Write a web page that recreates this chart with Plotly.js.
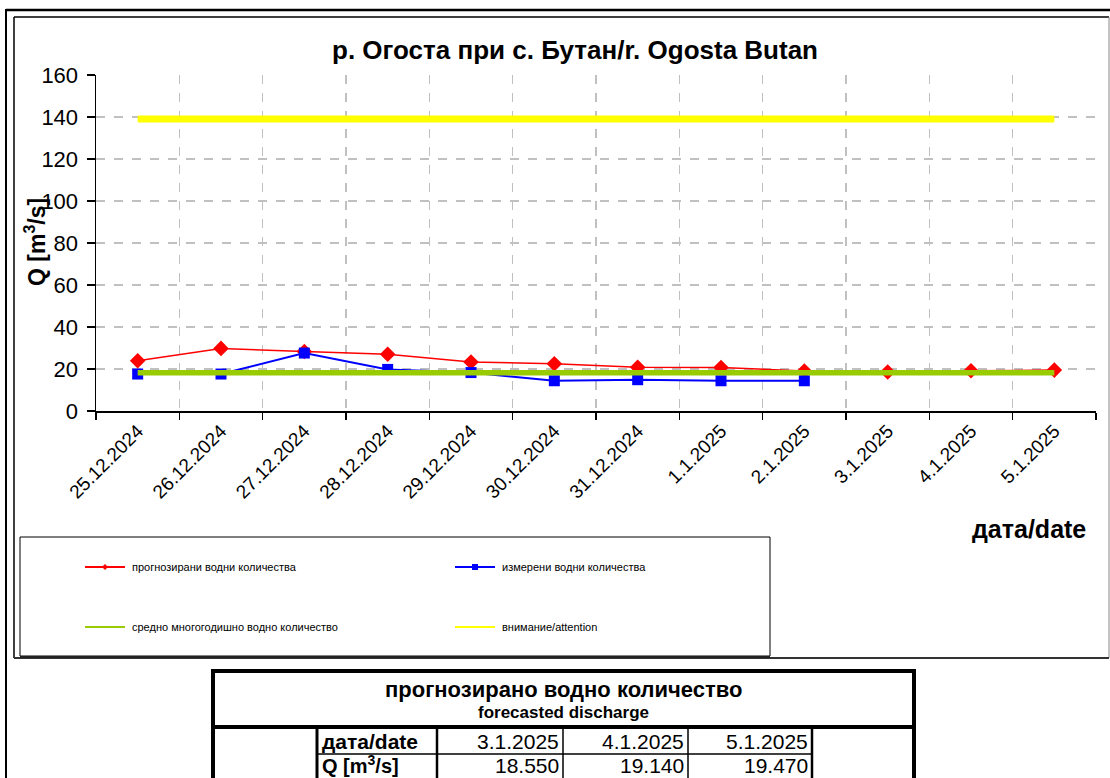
<!DOCTYPE html>
<html>
<head>
<meta charset="utf-8">
<script src="https://cdn.plot.ly/plotly-3.0.1.min.js"></script>
<style>
  html, body { margin: 0; padding: 0; background: #fff; }
  #chart { width: 1110px; height: 778px; }
</style>
</head>
<body>
<div id="chart"></div>
<script>
// ---------- data ----------
const categories = ['25.12.2024','26.12.2024','27.12.2024','28.12.2024','29.12.2024','30.12.2024','31.12.2024','1.1.2025','2.1.2025','3.1.2025','4.1.2025','5.1.2025'];
const forecast = [23.9, 29.8, 28.3, 27.0, 23.3, 22.5, 20.8, 20.7, 19.0, 18.55, 19.14, 19.47];
const measured = [17.6, 17.6, 27.6, 19.8, 18.3, 14.4, 14.9, 14.4, 14.4, null, null, null];
const meanDischarge = [18.2, 18.2, 18.2, 18.2, 18.2, 18.2, 18.2, 18.2, 18.2, 18.2, 18.2, 18.2];
const attention = [139, 139, 139, 139, 139, 139, 139, 139, 139, 139, 139, 139];
const yTicks = [0, 20, 40, 60, 80, 100, 120, 140, 160];

const seriesNames = ['прогнозирани водни количества', 'измерени водни количества', 'средно многогодишно водно количество', 'внимание/attention'];
const chartTitle = 'р. Огоста при с. Бутан/r. Ogosta Butan';
const xTitle = 'дата/date';
const yTitle = 'Q [m<sup>3</sup>/s]';
const tableTitleBg = 'прогнозирано водно количество';
const tableTitleEn = 'forecasted discharge';
const tableRowLabels = ['дата/date', 'Q [m<sup>3</sup>/s]'];
const tableDates = categories.slice(9);
const tableValues = forecast.slice(9);

// ---------- geometry helpers (pixel -> paper) ----------
const W = 1110, H = 778;
const L = 96, R = 1096, T = 75, B = 411;
const px = x => (x - L) / (R - L);
const py = y => (B - y) / (B - T);
const FONT = 'Liberation Sans, Arial, sans-serif';

const shapes = [];
const annotations = [];
function line(x0, y0, x1, y1, color, width) {
  shapes.push({type: 'line', xref: 'paper', yref: 'paper', x0: px(x0), y0: py(y0), x1: px(x1), y1: py(y1),
    line: {color: color, width: width}});
}
function rect(x0, y0, x1, y1, color, width) {
  shapes.push({type: 'rect', xref: 'paper', yref: 'paper', x0: px(x0), y0: py(y0), x1: px(x1), y1: py(y1),
    line: {color: color, width: width}, fillcolor: 'rgba(0,0,0,0)'});
}
function text(t, x, y, xanchor, size, bold, color) {
  annotations.push({xref: 'paper', yref: 'paper', x: px(x), y: py(y), xanchor: xanchor, yanchor: 'middle',
    text: bold ? '<b>' + t + '</b>' : t, showarrow: false,
    font: {family: FONT, size: size, color: color || '#000'}});
}

// outer frames
line(6, 10, 1112, 10, '#000', 2.5);
line(6, 9, 6, 790, '#000', 2);
line(14, 17, 1109, 17, '#000', 1.5);
line(14, 17, 14, 658, '#000', 1.5);
line(1109, 17, 1109, 658, '#888', 1);
line(14, 658, 1109, 658, '#333', 2);

// legend box
rect(20, 537, 770, 656, '#000', 1);
line(20, 657, 770, 657, '#222', 2);
// legend entries
const legItems = [
  {x: 85, y: 567, color: '#ff0000', marker: 'diamond', name: seriesNames[0]},
  {x: 455, y: 567, color: '#0000ff', marker: 'square', name: seriesNames[1]},
  {x: 85, y: 627, color: '#99cc00', marker: null, name: seriesNames[2]},
  {x: 455, y: 627, color: '#ffff00', marker: null, name: seriesNames[3]}
];
legItems.forEach(it => {
  line(it.x, it.y, it.x + 40, it.y, it.color, 2);
  const cx = it.x + 20;
  if (it.marker === 'diamond') {
    shapes.push({type: 'path', xref: 'paper', yref: 'paper',
      path: `M ${px(cx)} ${py(it.y - 3)} L ${px(cx + 3)} ${py(it.y)} L ${px(cx)} ${py(it.y + 3)} L ${px(cx - 3)} ${py(it.y)} Z`,
      fillcolor: it.color, line: {color: it.color, width: 0}});
  } else if (it.marker === 'square') {
    shapes.push({type: 'rect', xref: 'paper', yref: 'paper', x0: px(cx - 3), x1: px(cx + 3), y0: py(it.y - 3), y1: py(it.y + 3),
      fillcolor: it.color, line: {color: it.color, width: 0}});
  }
  text(it.name, it.x + 45, it.y, 'left', 11, false, '#000');
});

// axis titles
annotations.push({xref: 'paper', yref: 'paper', x: px(35), y: py(242), xanchor: 'center', yanchor: 'middle',
  text: '<b>' + yTitle + '</b>', textangle: -90, showarrow: false, font: {family: FONT, size: 23, color: '#000'}});
text(xTitle, 1029, 529, 'center', 25, true);

// table
const tL = 213, tR = 914, tT = 671, tSep = 727, tRow = 754, tBot = 792;
const colX = [317, 437, 563, 688, 812];
rect(tL, tT, tR, tBot, '#000', 4);
line(tL, tSep, tR, tSep, '#000', 4);
line(colX[0], tSep, colX[0], tBot, '#000', 3);
line(colX[1], tSep, colX[1], tBot, '#000', 2.5);
line(colX[2], tSep, colX[2], tBot, '#000', 1.5);
line(colX[3], tSep, colX[3], tBot, '#000', 1.5);
line(colX[4], tSep, colX[4], tBot, '#000', 2.5);
line(colX[0], tRow, colX[4], tRow, '#000', 1.5);
text(tableTitleBg, (tL + tR) / 2, 689, 'center', 22, true);
text(tableTitleEn, (tL + tR) / 2, 712, 'center', 17, true);
text(tableRowLabels[0], colX[0] + 3, 741, 'left', 21, true);
text(tableRowLabels[1], colX[0] + 3, 764, 'left', 20, true);
for (let i = 0; i < 3; i++) {
  text(tableDates[i], colX[i + 2] - 2, 741, 'right', 21, false);
  text(tableValues[i].toFixed(3), colX[i + 2] - 2, 765, 'right', 21, false);
}

// ---------- traces ----------
const traces = [
  {x: categories, y: attention, type: 'scatter', mode: 'lines', name: seriesNames[3],
    line: {color: '#ffff00', width: 7}},
  {x: categories, y: forecast, type: 'scatter', mode: 'lines+markers', name: seriesNames[0],
    line: {color: '#ff0000', width: 1.5}, marker: {symbol: 'diamond', size: 12, color: '#ff0000'}},
  {x: categories, y: measured, type: 'scatter', mode: 'lines+markers', name: seriesNames[1],
    line: {color: '#0000ff', width: 2}, marker: {symbol: 'square', size: 11, color: '#0000ff'}},
  {x: categories, y: meanDischarge, type: 'scatter', mode: 'lines', name: seriesNames[2],
    line: {color: '#99cc00', width: 5.5}}
];

const layout = {
  width: W, height: H,
  margin: {l: L, r: W - R, t: T, b: H - B, pad: 0},
  paper_bgcolor: '#fff', plot_bgcolor: '#fff',
  showlegend: false,
  hovermode: false,
  font: {family: FONT, color: '#000'},
  title: {text: '<b>' + chartTitle + '</b>', x: 575 / W, xanchor: 'center', xref: 'container',
    y: 1 - 50 / H, yanchor: 'middle', yref: 'container', font: {family: FONT, size: 26, color: '#000'}},
  xaxis: {
    type: 'category', categoryorder: 'array', categoryarray: categories, range: [-0.5, 11.5],
    tickson: 'boundaries', ticks: 'outside', ticklen: 7, tickwidth: 1.5, tickcolor: '#000',
    showline: true, linecolor: '#000', linewidth: 1.5,
    showgrid: true, gridcolor: '#c0c0c0', gridwidth: 1.5, griddash: 'dash',
    tickangle: -45, tickfont: {family: FONT, size: 19, color: '#000'}, zeroline: false, fixedrange: true
  },
  yaxis: {
    range: [0, 160], tickvals: yTicks, ticks: 'outside', ticklen: 8, tickwidth: 1.5, tickcolor: '#000',
    showline: true, linecolor: '#000', linewidth: 1.5, ticklabelstandoff: 4,
    showgrid: true, gridcolor: '#c0c0c0', gridwidth: 1.5, griddash: 'dash',
    tickfont: {family: FONT, size: 22, color: '#000'}, zeroline: false, fixedrange: true
  },
  shapes: shapes,
  annotations: annotations
};

Plotly.newPlot('chart', traces, layout, {displayModeBar: false, staticPlot: true});
</script>
</body>
</html>
